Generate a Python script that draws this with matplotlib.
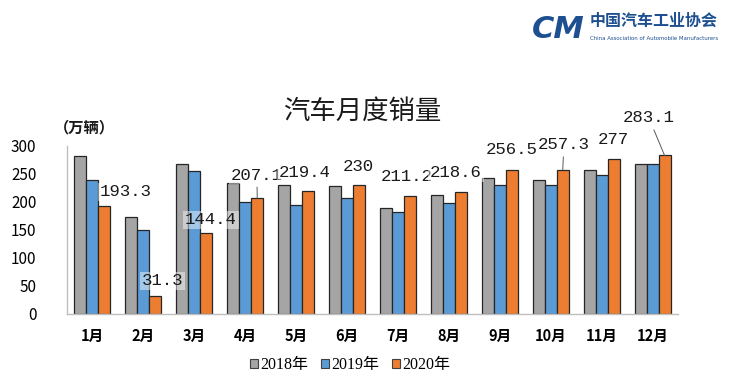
import matplotlib
matplotlib.use("Agg")
import matplotlib.pyplot as plt
import numpy as np

months = ["1月", "2月", "3月", "4月", "5月", "6月", "7月", "8月", "9月", "10月", "11月", "12月"]
sales_2018 = [283, 173, 268, 234, 231, 229, 190, 212, 242, 240, 257, 268]
sales_2019 = [239, 150, 255, 200, 194, 208, 183, 199, 230, 230, 248, 268]
sales_2020 = [193.3, 31.3, 144.4, 207.1, 219.4, 230, 211.2, 218.6, 256.5, 257.3, 277, 283.1]
label_2020 = ["193.3", "31.3", "144.4", "207.1", "219.4", "230", "211.2", "218.6", "256.5", "257.3", "277", "283.1"]
series_names = ["2018年", "2019年", "2020年"]
colors = ["#A5A5A5", "#5B9BD5", "#ED7D31"]
yticks = [0, 50, 100, 150, 200, 250, 300]

# label placement (data coords) and whether a leader line is drawn
label_pos = [(0.66, 218), (1.37, 59), (2.33, 168), (3.23, 248), (4.17, 252), (5.23, 264),
             (6.18, 246), (7.14, 252), (8.24, 293), (9.26, 302), (10.22, 312), (10.93, 350)]
leader = [False, False, False, True, False, False, False, False, False, True, False, True]

CJK = ["Noto Sans CJK SC", "DejaVu Sans"]

fig = plt.figure(figsize=(7.3, 3.86), dpi=100)
ax = fig.add_axes([67/730, 1-314/386, (678-67)/730, 168/386])

x = np.arange(len(months))
w = 0.236
for i, (vals, c) in enumerate(zip([sales_2018, sales_2019, sales_2020], colors)):
    ax.bar(x + (i-1)*w, vals, width=w, color=c, edgecolor="#262626", linewidth=0.9,
           label=series_names[i], zorder=2)

ax.set_xlim(-0.5, 11.5)
ax.set_ylim(0, 300)
ax.set_yticks(yticks)
ax.set_yticklabels([str(t) for t in yticks], family=CJK, fontsize=11)
ax.set_xticks(x)
ax.set_xticklabels(months, family=CJK, fontsize=10.5, fontweight="bold")
ax.tick_params(axis="both", length=0)
ax.tick_params(axis="y", pad=22)
ax.tick_params(axis="x", pad=10)
for s in ["top", "right"]:
    ax.spines[s].set_visible(False)
for s in ["left", "bottom"]:
    ax.spines[s].set_color("#BFBFBF")
    ax.spines[s].set_linewidth(1.0)

for i, (lab, (lx, ly)) in enumerate(zip(label_2020, label_pos)):
    bbox = dict(boxstyle="square,pad=0.1", fc="white", ec="none", alpha=0.45)
    if leader[i]:
        ax.annotate(lab, xy=(i + w, sales_2020[i]), xytext=(lx, ly), textcoords="data",
                    ha="center", va="center", fontsize=12.5, family="Liberation Mono",
                    color="#1a1a1a", bbox=bbox, annotation_clip=False, zorder=4,
                    arrowprops=dict(arrowstyle="-", color="#595959", lw=0.7,
                                    shrinkA=2, shrinkB=0))
    else:
        ax.text(lx, ly, lab, ha="center", va="center", fontsize=12.5, family="Liberation Mono",
                color="#1a1a1a", bbox=bbox, zorder=4, clip_on=False)

fig.text(362/730, 1-111/386, "汽车月度销量", ha="center", va="center", family=CJK,
         fontsize=19, color="#1a1a1a")
fig.text(84/730, 1-127/386, "（万辆）", ha="center", va="center", family=CJK,
         fontsize=11, fontweight="bold", color="#1a1a1a")

# legend
leg = fig.legend(*ax.get_legend_handles_labels(), loc="center",
                 bbox_to_anchor=(350/730, 1-365/386), ncol=3, frameon=False,
                 prop={"family": ["Liberation Serif", "Noto Sans CJK SC"], "size": 11.5},
                 handlelength=0.5, handleheight=0.5, handletextpad=0.15, columnspacing=0.8)
for h in leg.legend_handles:
    h.set_edgecolor("#404040")
    h.set_linewidth(0.8)

# logo
navy = "#1D4F91"
fig.text(558/730, 1-29/386, "CM", ha="center", va="center", fontsize=22, fontweight="bold",
         style="italic", color=navy, family="DejaVu Sans")
fig.text(590/730, 1-21/386, "中国汽车工业协会", ha="left", va="center", family=CJK,
         fontsize=11.5, fontweight="bold", color=navy)
fig.text(590/730, 1-38/386, "China Association of Automobile Manufacturers", ha="left",
         va="center", fontsize=3.9, color=navy, family="DejaVu Sans")

fig.savefig("out.png", dpi=100)
